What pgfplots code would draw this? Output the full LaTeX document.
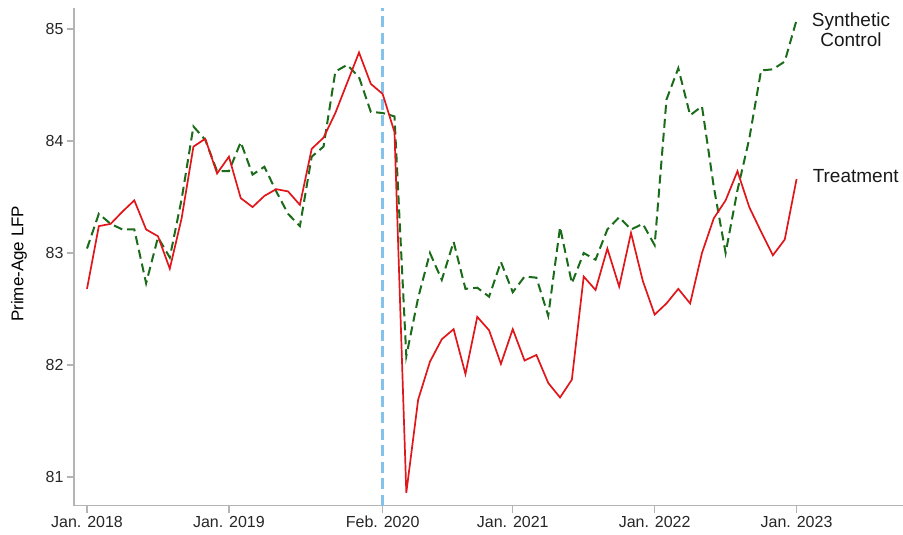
\documentclass[border=0pt]{standalone}
\usepackage{fontspec}
\setmainfont{Liberation Sans}
\usepackage{pgfplots}
\usepackage{pgfplotstable}
\pgfplotsset{compat=1.18}
\definecolor{scgreen}{HTML}{1A6B1A}
\definecolor{trred}{HTML}{E0161A}
\definecolor{vblue}{HTML}{84C2EC}
\definecolor{axgray}{HTML}{B4B4B4}

\pgfplotstableread{
m v
0 82.68
1 83.24
2 83.26
3 83.37
4 83.47
5 83.21
6 83.15
7 82.86
8 83.31
9 83.95
10 84.02
11 83.71
12 83.86
13 83.49
14 83.41
15 83.51
16 83.57
17 83.55
18 83.43
19 83.93
20 84.03
21 84.25
22 84.52
23 84.79
24 84.51
25 84.42
26 84.08
27 80.86
28 81.69
29 82.03
30 82.23
31 82.32
32 81.92
33 82.43
34 82.31
35 82.01
36 82.32
37 82.04
38 82.09
39 81.84
40 81.71
41 81.87
42 82.79
43 82.67
44 83.04
45 82.70
46 83.18
47 82.75
48 82.45
49 82.55
50 82.68
51 82.55
52 83.00
53 83.31
54 83.47
55 83.73
56 83.41
57 83.19
58 82.98
59 83.12
60 83.66
}\treat

\pgfplotstableread{
m v
0 83.04
1 83.35
2 83.26
3 83.21
4 83.21
5 82.73
6 83.14
7 82.96
8 83.48
9 84.13
10 84.01
11 83.73
12 83.73
13 83.99
14 83.70
15 83.77
16 83.55
17 83.35
18 83.24
19 83.86
20 83.95
21 84.62
22 84.68
23 84.57
24 84.26
25 84.25
26 84.22
27 82.08
28 82.60
29 83.00
30 82.76
31 83.10
32 82.68
33 82.69
34 82.61
35 82.92
36 82.65
37 82.79
38 82.78
39 82.44
40 83.23
41 82.73
42 83.00
43 82.94
44 83.21
45 83.32
46 83.21
47 83.26
48 83.07
49 84.37
50 84.65
51 84.23
52 84.31
53 83.59
54 83.00
55 83.56
56 84.02
57 84.63
58 84.64
59 84.71
60 85.08
}\synth

\begin{document}
\begin{tikzpicture}[x=1pt,y=1pt]
\useasboundingbox (-74,-29.3) rectangle (829,505.7);
\begin{axis}[
  scale only axis, width=829pt, height=497.7pt,
  at={(0,0)}, anchor=south west,
  xmin=-1.1, xmax=69, ymin=80.744, ymax=85.1875,
  axis x line*=bottom, axis y line*=left,
  axis line style={axgray, line width=1.4pt, -},
  tick align=outside, major tick length=7pt,
  tick style={axgray, line width=1.2pt},
  xtick={0,12,25,36,48,60},
  xticklabels={Jan. 2018, Jan. 2019, Feb. 2020, Jan. 2021, Jan. 2022, Jan. 2023},
  ytick={81,82,83,84,85},
  /pgf/number format/assume math mode=true,
  ticklabel style={font=\fontsize{16}{18}\selectfont, text=black!85},
  ylabel={Prime-Age LFP},
  ylabel style={at={(axis description cs:-0.0663,0.486)}, anchor=center, font=\fontsize{17}{19}\selectfont},
  clip=false,
]
\addplot[vblue, line width=2.4pt, dash pattern=on 11pt off 5.5pt] coordinates {(25,80.744) (25,85.1875)};
\addplot[scgreen, line width=2pt, dash pattern=on 9pt off 5pt] table[x=m, y=v] {\synth};
\addplot[trred, line width=1.7pt] table[x=m, y=v] {\treat};
\node[font=\fontsize{19}{20}\selectfont, align=center, text=black!90] at (axis cs:64.6,84.99) {Synthetic\\Control};
\node[font=\fontsize{19}{20}\selectfont, text=black!90] at (axis cs:65.0,83.69) {Treatment};
\end{axis}
\end{tikzpicture}
\end{document}
